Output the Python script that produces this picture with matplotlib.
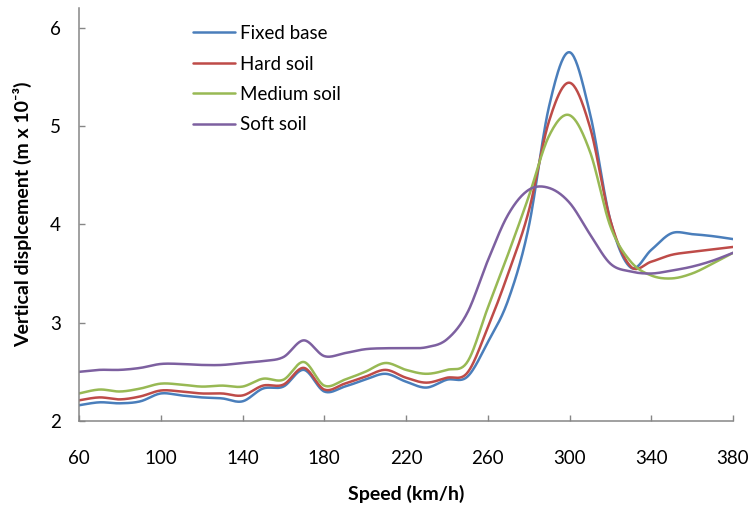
import numpy as np
import matplotlib
matplotlib.use("Agg")
import matplotlib.pyplot as plt

# Speeds (km/h) and vertical displacement (m x 10^-3)
speed = [60, 70, 80, 90, 100, 110, 120, 130, 140, 150, 160, 170, 180, 190, 200, 210,
         220, 230, 240, 250, 260, 270, 280, 290, 300, 310, 320, 330, 340, 350, 360, 370, 380]

fixed_base = [2.16, 2.19, 2.18, 2.20, 2.28, 2.26, 2.24, 2.23, 2.20, 2.33, 2.35, 2.52,
              2.30, 2.35, 2.42, 2.48, 2.40, 2.34, 2.42, 2.45, 2.80, 3.23, 3.97, 5.20,
              5.75, 5.13, 4.04, 3.56, 3.74, 3.91, 3.90, 3.88, 3.85]
hard_soil = [2.21, 2.24, 2.22, 2.25, 2.31, 2.30, 2.28, 2.28, 2.26, 2.36, 2.37, 2.54,
             2.32, 2.38, 2.45, 2.52, 2.44, 2.39, 2.44, 2.49, 2.95, 3.50, 4.13, 5.05,
             5.44, 4.99, 4.04, 3.57, 3.62, 3.69, 3.72, 3.745, 3.77]
medium_soil = [2.28, 2.32, 2.30, 2.33, 2.38, 2.37, 2.35, 2.36, 2.35, 2.43, 2.42, 2.60,
               2.36, 2.42, 2.50, 2.59, 2.52, 2.48, 2.52, 2.60, 3.15, 3.70, 4.28, 4.90,
               5.11, 4.74, 3.98, 3.62, 3.48, 3.45, 3.50, 3.60, 3.71]
soft_soil = [2.50, 2.52, 2.52, 2.54, 2.58, 2.58, 2.57, 2.57, 2.59, 2.61, 2.65, 2.82,
             2.66, 2.69, 2.73, 2.74, 2.74, 2.75, 2.83, 3.10, 3.63, 4.10, 4.35, 4.37,
             4.22, 3.90, 3.60, 3.52, 3.50, 3.53, 3.57, 3.63, 3.71]

labels = ["Fixed base", "Hard soil", "Medium soil", "Soft soil"]
colors = ["#4A7EBB", "#BE4B48", "#98B954", "#7D60A0"]


# Excel-style smoothed line (Catmull-Rom through the data points)
def smooth(x, y, n=24):
    p = np.column_stack([x, y]).astype(float)
    p = np.vstack([p[0], p, p[-1]])
    t = np.linspace(0, 1, n)[:, None]
    out = []
    for i in range(1, len(p) - 2):
        p0, p1, p2, p3 = p[i - 1], p[i], p[i + 1], p[i + 2]
        b1 = p1 + (p2 - p0) / 6
        b2 = p2 - (p3 - p1) / 6
        seg = ((1 - t) ** 3) * p1 + 3 * ((1 - t) ** 2) * t * b1 \
            + 3 * (1 - t) * t ** 2 * b2 + t ** 3 * p2
        out.append(seg if i == 1 else seg[1:])
    out = np.vstack(out)
    return out[:, 0], out[:, 1]


plt.rcParams["font.family"] = ["Lato", "DejaVu Sans"]

fig = plt.figure(figsize=(7.5, 5.15), dpi=100)
ax = fig.add_axes([79 / 750, 1 - 421 / 515, 654 / 750, 413 / 515])

for series, lab, col in zip([fixed_base, hard_soil, medium_soil, soft_soil], labels, colors):
    sx, sy = smooth(speed, series)
    ax.plot(sx, sy, color=col, lw=1.8, label=lab, solid_capstyle="round")

ax.set_xlim(60, 380)
ax.set_ylim(2, 6.2)
ax.set_xticks(range(60, 381, 40))
ax.set_yticks([2, 3, 4, 5, 6])

for side in ["top", "right"]:
    ax.spines[side].set_visible(False)
for side in ["left", "bottom"]:
    ax.spines[side].set_color("#868686")
    ax.spines[side].set_linewidth(1.1)

ax.tick_params(axis="both", direction="in", length=4.5, width=1.0, color="#868686",
               labelsize=13.5, labelcolor="black")
ax.tick_params(axis="x", pad=21)
ax.tick_params(axis="y", pad=13)

ax.set_xlabel("Speed (km/h)", fontsize=14, fontweight="bold")
ax.xaxis.set_label_coords(0.5, -0.155)
ax.set_ylabel("Vertical displcement (m x 10⁻³)", fontsize=14, fontweight="bold")
ax.yaxis.set_label_coords(-0.072, 0.5)

ax.legend(loc="upper left", bbox_to_anchor=(193 / 750, 1 - 25 / 515),
          bbox_transform=fig.transFigure, frameon=False, fontsize=13.5,
          handlelength=2.25, handletextpad=0.25, labelspacing=0.72,
          borderpad=0, borderaxespad=0)

fig.savefig("out.png", dpi=100)
